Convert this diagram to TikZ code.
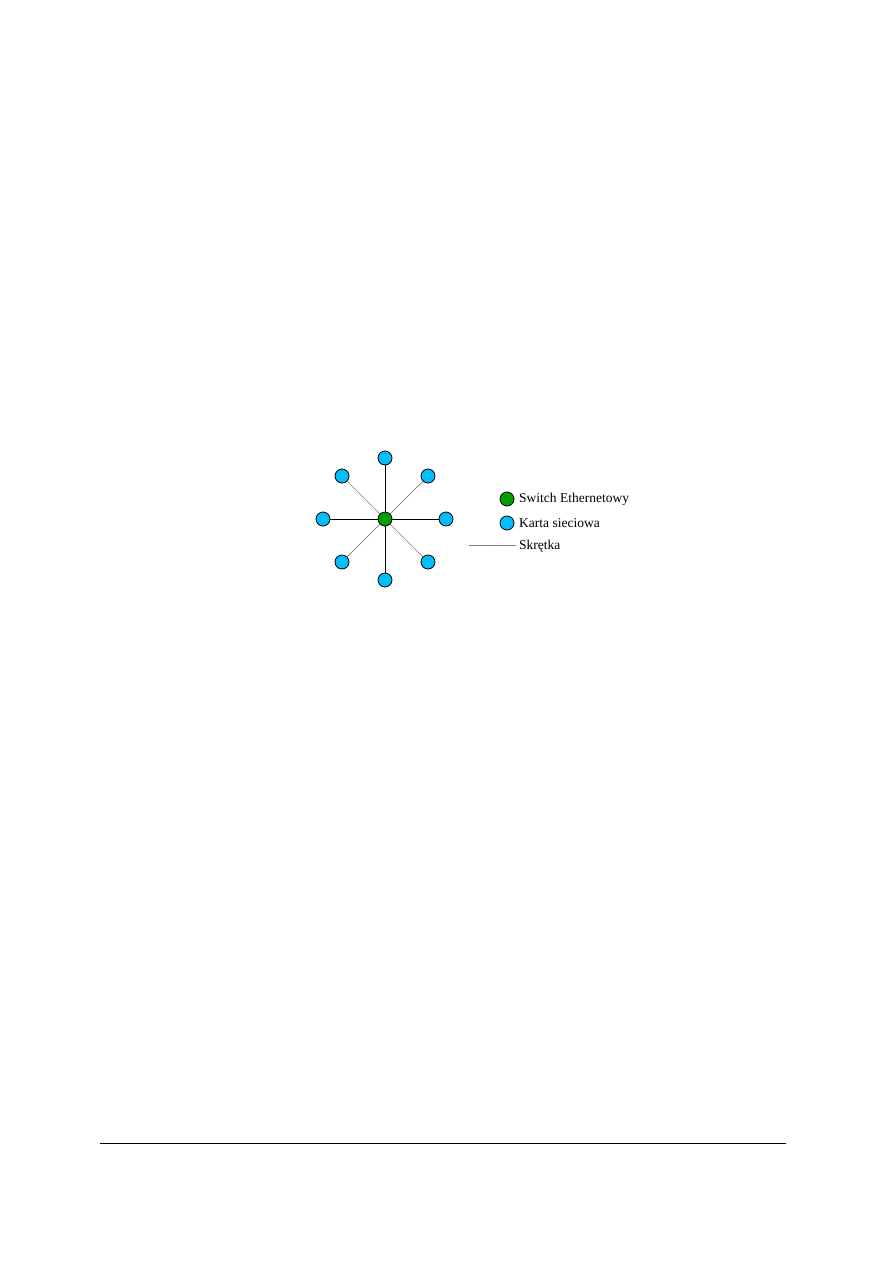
\documentclass[tikz,border=0pt]{standalone}
\usepackage{fontspec}
\setmainfont{Liberation Serif}
\definecolor{nicblue}{RGB}{0,190,250}
\definecolor{swgreen}{RGB}{0,160,0}
\begin{document}
\begin{tikzpicture}[x=1pt,y=-1pt,
  nic/.style={circle,draw=black,line width=0.8pt,fill=nicblue,minimum size=14pt,inner sep=0pt},
  sw/.style={circle,draw=black,line width=0.8pt,fill=swgreen,minimum size=14pt,inner sep=0pt},
  straight/.style={black,line width=1pt},
  diag/.style={gray,line width=0.7pt},
  lbl/.style={anchor=west,inner sep=0pt,font=\fontsize{13.5}{15}\selectfont}]
\useasboundingbox (0,0) rectangle (893,1263);
\fill[white] (0,0) rectangle (893,1263);
\coordinate (c) at (385,519);
\draw[straight] (c) -- (385,458) coordinate (t);
\draw[straight] (c) -- (385,580) coordinate (b);
\draw[straight] (c) -- (323,519) coordinate (l);
\draw[straight] (c) -- (446,519) coordinate (r);
\draw[diag] (c) -- (342,476) coordinate (tl);
\draw[diag] (c) -- (428,476) coordinate (tr);
\draw[diag] (c) -- (342,562) coordinate (bl);
\draw[diag] (c) -- (428,562) coordinate (br);
\foreach \p in {t,b,l,r,tl,tr,bl,br} \node[nic] (n\p) at (\p) {};
\node[sw] (sw) at (c) {};
% legend
\node[sw] (lsw) at (507,499) {};
\node[lbl] (tsw) at (519,499) {Switch Ethernetowy};
\node[nic] (lnic) at (507,523) {};
\node[lbl] (tnic) at (519,523) {Karta sieciowa};
\coordinate (ls) at (469,545);
\coordinate (le) at (516,545);
\node[lbl] (tcab) at (519,546) {Skrętka};
\draw[gray,line width=0.8pt] (ls) -- (le);
% footer line
\coordinate (f1) at (100,1143);
\coordinate (f2) at (786,1143);
\draw[black,line width=1pt] (f1) -- (f2);
\end{tikzpicture}
\end{document}
